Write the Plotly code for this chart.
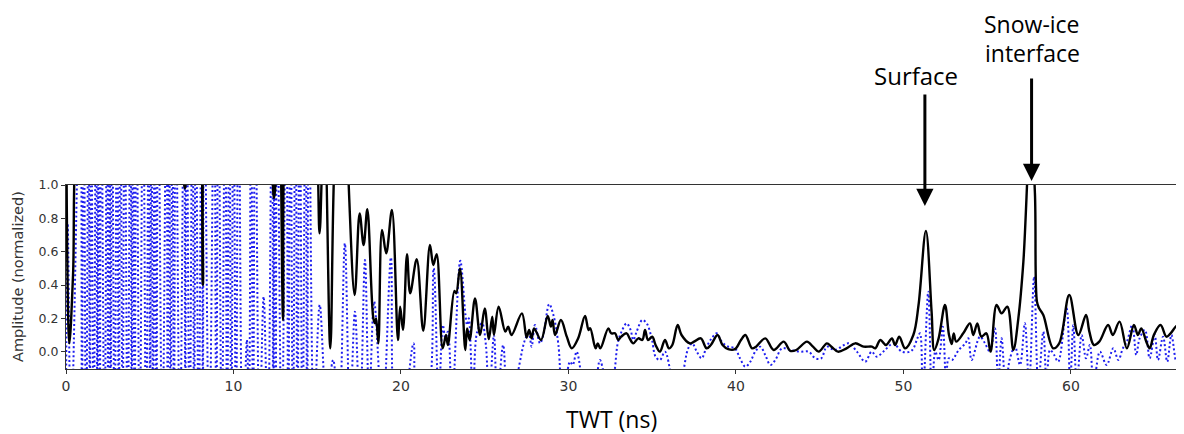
import plotly.graph_objects as go

# ---------------- data (x = TWT in ns, y = normalized amplitude) ----------------
black_early = [(0.0, 1.6), (0.2, 0.05), (0.42, 0.46), (0.7, 1.4), (2.0, 2.0), (4.0, 2.0), (6.0, 1.8),
               (6.9, 1.2), (7.1, 0.98), (7.3, 1.2), (7.95, 1.6), (8.17, 0.40), (8.4, 1.6), (9.5, 2.0),
               (11.5, 2.0), (12.25, 1.2), (12.42, 0.92), (12.58, 1.15), (12.75, 1.5), (12.96, 0.19),
               (13.15, 1.5), (14.0, 2.0), (14.9, 1.4), (15.14, 0.71), (15.33, 1.2), (15.45, 1.3),
               (15.78, 0.02), (16.1, 1.3), (16.5, 1.6), (17.23, 0.34), (17.53, 0.83), (17.77, 0.64),
               (17.99, 0.855), (18.35, 0.2), (18.45, 0.17), (18.52, 0.2), (18.65, 0.05), (18.87, 0.73),
               (19.12, 0.59), (19.46, 0.85), (19.82, 0.07), (19.95, 0.27)]
black_mid = [(20.12, 0.13), (20.36, 0.585), (20.55, 0.35), (20.94, 0.555), (21.33, 0.125), (21.73, 0.64),
             (21.93, 0.52), (22.13, 0.585), (22.49, 0.02), (22.69, 0.10), (22.8, 0.04), (23.19, 0.365),
             (23.3, 0.35), (23.52, 0.50), (23.84, 0.01), (23.95, 0.14), (24.1, 0.07), (24.42, 0.32),
             (24.72, 0.10), (25.0, 0.26), (25.24, 0.075), (25.45, 0.21), (25.55, 0.10), (25.83, 0.27),
             (26.23, 0.12), (26.4, 0.15), (26.6, 0.10), (27.22, 0.23), (27.5, 0.085), (27.65, 0.13),
             (27.8, 0.08), (27.95, 0.14), (28.36, 0.07), (28.76, 0.215), (28.95, 0.15), (29.05, 0.19),
             (29.2, 0.10), (29.55, 0.19), (29.9, 0.09), (30.2, 0.02), (30.58, 0.08), (30.99, 0.215),
             (31.2, 0.13), (31.3, 0.14), (31.62, 0.02), (31.75, 0.05), (31.9, 0.02), (32.38, 0.14),
             (32.55, 0.11), (32.78, 0.11), (32.97, 0.07), (33.15, 0.09), (33.47, 0.11), (33.65, 0.08),
             (33.87, 0.05), (34.17, 0.08), (34.41, 0.07), (34.57, 0.13), (34.75, 0.07), (35.0, 0.09),
             (35.2, 0.04), (35.46, 0.0), (35.76, 0.07), (36.0, 0.02), (36.2, 0.04), (36.52, 0.16),
             (36.75, 0.10), (37.25, 0.05), (37.5, 0.06), (37.9, 0.08), (38.25, 0.02), (38.5, 0.04),
             (38.9, 0.10), (39.2, 0.04), (39.54, 0.015), (39.94, 0.015)]
black_late = [(40.3, 0.07), (40.56, 0.10), (40.96, 0.02), (41.2, 0.03), (41.75, 0.08), (42.25, 0.01),
              (42.85, 0.06), (43.24, 0.005), (43.6, 0.01), (44.24, 0.06), (44.6, 0.03), (44.94, 0.0),
              (45.43, 0.05), (45.7, 0.03), (46.09, 0.0), (46.6, 0.02), (47.12, 0.05), (47.62, 0.03),
              (48.12, 0.03), (48.32, 0.02), (48.62, 0.07), (48.96, 0.04), (49.31, 0.08), (49.5, 0.04),
              (49.75, 0.09), (50.1, 0.02), (50.59, 0.10), (50.9, 0.28), (51.34, 0.725), (51.68, 0.24),
              (51.84, 0.01), (52.1, 0.08), (52.48, 0.28), (52.72, 0.10), (52.88, 0.045), (53.0, 0.11),
              (53.15, 0.06), (53.57, 0.11), (53.97, 0.17), (54.17, 0.10), (54.41, 0.17), (54.65, 0.09),
              (54.95, 0.11), (55.2, 0.0), (55.56, 0.28), (55.86, 0.23), (56.2, 0.27), (56.56, 0.01),
              (56.86, 0.2), (57.16, 0.54), (57.6, 1.35), (57.85, 0.95), (57.97, 0.3), (58.1, 0.26),
              (58.35, 0.22), (58.94, 0.02), (59.3, 0.05), (59.9, 0.34), (60.44, 0.10), (60.9, 0.22),
              (61.1, 0.12), (61.37, 0.04), (61.69, 0.06), (62.22, 0.16), (62.5, 0.10), (62.9, 0.18),
              (63.34, 0.02), (63.76, 0.16), (64.0, 0.10), (64.2, 0.14), (64.5, 0.06), (64.7, 0.02),
              (64.95, 0.10), (65.35, 0.16), (65.7, 0.09), (65.95, 0.11), (66.4, 0.16), (66.75, 0.02)]

blue_early = [(0.0, -0.3), (0.1, 0.77), (0.3, -0.5), (0.85, 1.8), (0.95, -0.6), (1.05, 1.8), (1.2, -0.6),
              (1.35, 1.8), (1.42, -0.6), (1.5, 1.8), (1.65, -0.6), (1.8, 1.8), (1.87, -0.6), (1.95, 1.8),
              (2.02, -0.6), (2.1, 1.8), (2.3, -0.6), (2.45, 1.8), (2.52, -0.6), (2.6, 1.8), (2.67, -0.6),
              (2.75, 1.8), (2.9, -0.6), (3.05, 1.8), (3.15, -0.6), (3.25, 1.8), (3.38, -0.6), (3.5, 1.8),
              (3.68, -0.6), (3.85, 1.8), (3.92, -0.6), (4.0, 1.8), (4.1, -0.6), (4.2, 1.8), (4.4, -0.6),
              (4.6, 1.8), (4.78, -0.6), (4.95, 1.8), (5.02, -0.6), (5.1, 1.8), (5.2, -0.6), (5.3, 1.8),
              (5.4, -0.6), (5.5, 1.8), (5.75, -0.6), (6.0, 1.8), (6.07, -0.6), (6.15, 1.8), (6.25, -0.6),
              (6.35, 1.8), (6.45, -0.6), (6.55, 1.8), (6.8, -0.6), (7.05, 1.8), (7.12, -0.6), (7.2, 1.8),
              (7.38, -0.6), (7.55, 1.8), (7.65, -0.6), (7.75, 1.8), (7.92, -0.6), (8.1, 1.8), (8.17, -0.6),
              (8.25, 1.8), (8.55, -0.6), (8.85, 1.8), (8.97, -0.6), (9.1, 1.8), (9.3, -0.6), (9.5, 1.8),
              (9.62, -0.6), (9.75, 1.8), (9.87, -0.6), (10.0, 1.8), (10.15, -0.6), (10.3, 1.8),
              (10.55, -0.6), (10.8, 0.07), (10.92, -0.4), (11.05, 1.8), (11.17, -0.6), (11.3, 1.8),
              (11.55, -0.5), (11.8, 0.33), (12.05, -0.5), (12.3, 1.8), (12.37, -0.6), (12.45, 1.8),
              (12.52, -0.6), (12.6, 1.8), (12.88, -0.6), (13.15, 1.8), (13.27, -0.6), (13.4, 1.8),
              (13.55, -0.6), (13.7, 1.8), (13.82, -0.6), (13.95, 1.8), (14.12, -0.6), (14.3, 1.8),
              (14.4, -0.6), (14.5, 1.8), (14.8, -0.4), (15.15, 0.28), (15.55, -0.3), (15.95, -0.05),
              (16.3, -0.4), (16.65, 0.65), (16.95, -0.4), (17.25, 0.24), (17.55, -0.4), (17.85, 0.55),
              (18.1, -0.3), (18.4, 0.3), (18.9, -0.4), (19.4, 0.565), (19.7, -0.4)]
blue_mid = [(20.2, -0.3), (20.75, 0.05), (21.0, -0.3), (21.5, -0.3), (21.95, 0.5), (22.25, -0.3),
            (22.5, 0.16), (22.65, 0.08), (22.8, 0.12), (23.05, -0.3), (23.54, 0.545), (23.85, 0.22),
            (23.95, 0.16), (24.05, 0.2), (24.3, -0.3), (24.55, 0.12), (24.84, 0.17), (25.07, 0.04),
            (25.25, -0.3), (25.55, 0.1), (25.75, -0.3), (26.1, 0.04), (26.4, -0.3), (26.8, -0.2),
            (27.4, 0.07), (27.63, 0.11), (27.8, 0.03), (28.0, 0.16), (28.3, 0.05), (28.5, 0.1),
            (28.85, 0.285), (29.1, 0.22), (29.4, 0.04), (29.65, -0.3), (30.09, -0.06), (30.25, -0.08),
            (30.49, 0.0), (30.79, -0.15), (31.2, -0.3), (31.6, -0.2), (31.88, -0.05), (32.1, -0.12),
            (32.4, -0.2), (32.68, -0.15), (32.94, 0.05), (33.17, 0.12), (33.47, 0.17), (33.71, 0.13),
            (33.87, 0.07), (34.07, 0.12), (34.41, 0.19), (34.67, 0.17), (34.97, 0.08), (35.2, -0.03),
            (35.46, -0.05), (35.76, 0.0), (36.16, -0.15), (36.5, -0.25), (36.85, -0.12), (37.15, 0.02),
            (37.39, 0.05), (37.66, 0.0), (37.95, -0.04), (38.25, 0.03), (38.55, 0.08), (38.85, 0.11),
            (39.15, 0.06), (39.54, 0.03), (39.94, 0.02)]
blue_late = [(40.24, -0.04), (40.56, -0.09), (40.86, -0.06), (41.15, 0.0), (41.45, 0.03), (41.75, -0.02),
             (42.05, -0.08), (42.35, -0.05), (42.75, 0.02), (43.24, 0.01), (43.84, 0.0), (44.34, 0.0),
             (44.74, -0.04), (45.09, -0.04), (45.43, 0.03), (45.9, 0.01), (46.73, 0.05), (47.22, 0.0),
             (47.72, -0.06), (48.1, 0.0), (48.4, -0.03), (48.9, 0.01), (49.4, 0.05), (49.9, 0.0),
             (50.39, 0.0), (50.6, 0.02), (50.83, 0.08), (50.99, 0.11), (51.15, -0.3), (51.48, 0.36),
             (51.7, -0.3), (51.9, 0.0), (52.1, -0.05), (52.35, 0.15), (52.55, -0.2), (52.7, -0.04),
             (52.9, -0.05), (53.3, 0.01), (53.7, 0.05), (53.87, 0.08), (54.07, -0.05), (54.57, 0.09),
             (54.87, 0.05), (55.16, 0.0), (55.46, 0.14), (55.65, -0.2), (55.86, 0.08), (56.1, -0.2),
             (56.36, -0.04), (56.66, 0.03), (56.96, -0.08), (57.25, 0.17), (57.5, -0.2), (57.8, 0.45),
             (58.05, -0.2), (58.35, 0.12), (58.55, -0.2), (58.75, 0.01), (59.0, -0.02), (59.24, -0.06),
             (59.74, 0.26), (59.95, -0.2), (60.14, 0.16), (60.35, -0.2), (60.64, 0.10), (60.9, -0.04),
             (61.13, 0.04), (61.35, -0.2), (61.73, 0.0), (62.13, -0.08), (62.53, 0.02), (62.83, -0.05),
             (63.1, 0.02), (63.34, 0.06), (63.66, 0.16), (63.9, -0.02), (64.1, 0.08), (64.42, 0.13),
             (64.7, -0.04), (65.0, 0.10), (65.2, -0.05), (65.5, 0.09), (65.75, -0.06), (66.0, 0.10),
             (66.3, -0.06), (66.6, 0.04)]

x_ticks = [0, 10, 20, 30, 40, 50, 60]
y_ticks = [0.0, 0.2, 0.4, 0.6, 0.8, 1.0]
x_range = [0, 66.75]
y_range = [-0.104, 1.0]

# ---------------- figure ----------------
black = black_early + black_mid + black_late
blue = blue_early + blue_mid + blue_late
bx, by = zip(*black)
ux, uy = zip(*blue)

fig = go.Figure()
fig.add_trace(go.Scatter(x=ux, y=uy, mode="lines", hoverinfo="skip",
                         line=dict(color="rgb(30,30,240)", width=2, dash="2px,2.5px", shape="spline",
                                   smoothing=1.0)))
fig.add_trace(go.Scatter(x=bx, y=by, mode="lines", hoverinfo="skip",
                         line=dict(color="black", width=2.4, shape="spline", smoothing=1.0)))

axis_col = "#333333"

# the page body adds an 8px offset; figure is sized so the plot area lands at
# page pixels x 66..1184, y 185..369
fig.update_layout(
    width=1176, height=426,
    margin=dict(l=58, r=0, t=177, b=65),
    paper_bgcolor="white", plot_bgcolor="white",
    showlegend=False,
    xaxis=dict(range=x_range, tickvals=x_ticks, showgrid=False, zeroline=False,
               showline=True, linecolor=axis_col, linewidth=1, mirror=True,
               ticks="outside", ticklen=4, tickcolor=axis_col,
               tickfont=dict(family="DejaVu Sans", size=14, color="#333333")),
    yaxis=dict(range=y_range, tickvals=y_ticks, tickformat=".1f", showgrid=False, zeroline=False,
               showline=True, linecolor=axis_col, linewidth=1,
               ticks="outside", ticklen=4, tickcolor=axis_col,
               tickfont=dict(family="DejaVu Sans", size=12.5, color="#333333")),
)

ann_font = dict(family="Open Sans", size=24, color="black")
fig.add_annotation(text="Amplitude (normalized)", xref="paper", yref="paper",
                   x=(18 - 66) / 1118, y=0.5, textangle=-90, showarrow=False,
                   xanchor="center", yanchor="middle",
                   font=dict(family="DejaVu Sans", size=14.5, color="#333333"))
fig.add_annotation(text="TWT (ns)", xref="paper", yref="paper",
                   x=(611 - 66) / 1118, y=(369 - 419) / 184, showarrow=False,
                   xanchor="center", yanchor="middle", font=dict(family="Open Sans", size=23, color="black"))
fig.add_annotation(text="Surface", xref="paper", yref="paper",
                   x=(916 - 66) / 1118, y=(369 - 76) / 184, showarrow=False,
                   xanchor="center", yanchor="middle", font=ann_font)
fig.add_annotation(text="Snow-ice", xref="paper", yref="paper",
                   x=(1032 - 66) / 1118, y=(369 - 24) / 184, showarrow=False,
                   xanchor="center", yanchor="middle", font=dict(family="Open Sans", size=23, color="black"))
fig.add_annotation(text="interface", xref="paper", yref="paper",
                   x=(1032 - 66) / 1118, y=(369 - 53) / 184, showarrow=False,
                   xanchor="center", yanchor="middle", font=dict(family="Open Sans", size=23, color="black"))
# arrows
fig.add_annotation(text="", xref="x", yref="paper", x=51.28, y=(369 - 206) / 184,
                   ax=0, ay=-113, showarrow=True, arrowhead=2, arrowsize=1.15,
                   arrowwidth=3, arrowcolor="black", standoff=0)
fig.add_annotation(text="", xref="x", yref="paper", x=57.65, y=(369 - 181) / 184,
                   ax=0, ay=-104, showarrow=True, arrowhead=2, arrowsize=1.15,
                   arrowwidth=3, arrowcolor="black", standoff=0)

fig.write_html("out.html")
